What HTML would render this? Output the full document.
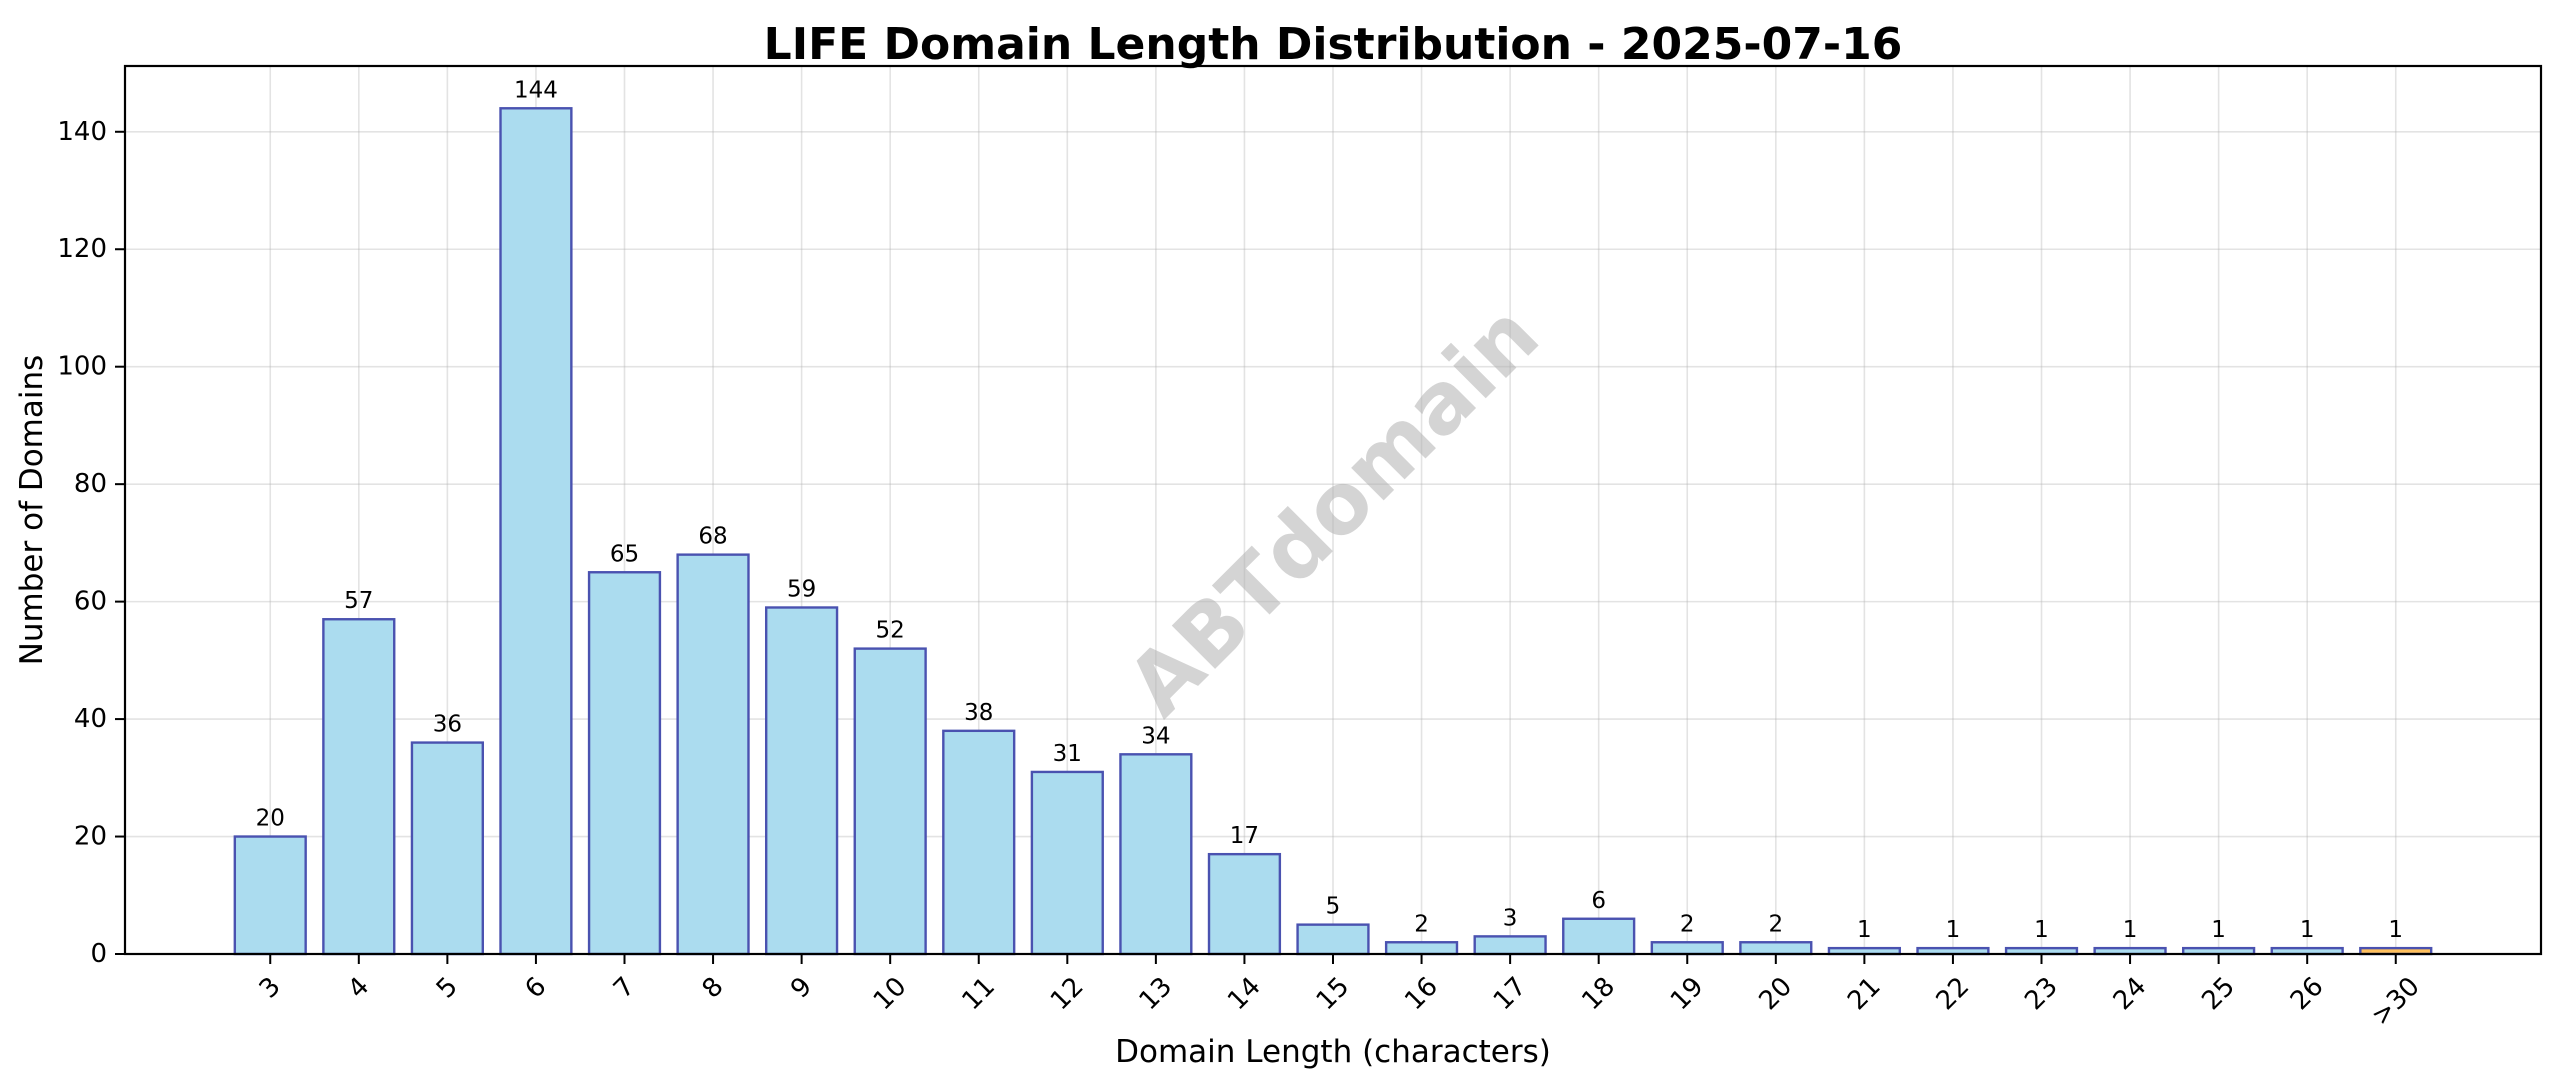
<!DOCTYPE html>
<html><head><meta charset="utf-8"><style>
html,body{margin:0;padding:0;background:#fff;}
svg{display:block;font-family:"DejaVu Sans","Liberation Sans",sans-serif;}
</style></head><body>
<svg id="chart" width="2560" height="1087" viewBox="0 0 2560 1087" xmlns="http://www.w3.org/2000/svg">
<rect x="0" y="0" width="2560" height="1087" fill="#fff"/>
<g id="grid"></g>
<text x="1333" y="510" transform="rotate(-45 1333 510)" text-anchor="middle" dominant-baseline="central" font-size="84" font-weight="bold" fill="#b0b0b0" fill-opacity="0.55">ABTdomain</text>
<g id="bars"></g>
<g id="labels"></g>
<rect x="125" y="66" width="2416" height="888" fill="none" stroke="#000" stroke-width="2.2"/>
<g id="yticks"></g>
<g id="xticks"></g>
<text x="1333" y="59" text-anchor="middle" font-size="44" font-weight="bold" fill="#000">LIFE Domain Length Distribution - 2025-07-16</text>
<text x="1333" y="1062" text-anchor="middle" font-size="31" fill="#000">Domain Length (characters)</text>
<text x="0" y="0" transform="translate(42 510) rotate(-90)" text-anchor="middle" font-size="31" fill="#000">Number of Domains</text>
</svg>
<script>
const categories = ["3","4","5","6","7","8","9","10","11","12","13","14","15","16","17","18","19","20","21","22","23","24","25","26",">30"];
const counts = [20,57,36,144,65,68,59,52,38,31,34,17,5,2,3,6,2,2,1,1,1,1,1,1,1];
const yTicks = [0,20,40,60,80,100,120,140];

const NS = "http://www.w3.org/2000/svg";
const L = 125, R = 2541, T = 66, B = 954;
const n = categories.length;
const xmin = -0.4 - 0.05*(n - 1 + 0.8), xmax = n - 1 + 0.4 + 0.05*(n - 1 + 0.8);
const ymax = Math.max(...counts) * 1.05;
const xs = i => L + (i - xmin) / (xmax - xmin) * (R - L);
const ys = v => B - v / ymax * (B - T);
const bw = 0.8 * (R - L) / (xmax - xmin);
function mk(tag, attrs, parent) {
  const e = document.createElementNS(NS, tag);
  for (const k in attrs) e.setAttribute(k, attrs[k]);
  parent.appendChild(e);
  return e;
}
const grid = document.getElementById('grid');
const bars = document.getElementById('bars');
const labels = document.getElementById('labels');
const yt = document.getElementById('yticks');
const xt = document.getElementById('xticks');

yTicks.forEach(v => {
  const y = ys(v);
  const g = mk('line', {x1: L, x2: R, y1: y, y2: y, stroke: '#b0b0b0', 'stroke-opacity': 0.35, 'stroke-width': 1.6}, grid);
  
  
  const tk = mk('line', {x1: L - 10, x2: L, y1: y, y2: y, stroke: '#000', 'stroke-width': 2}, yt);
  
  
  const t = mk('text', {x: L - 18, y: y, 'text-anchor': 'end', 'dominant-baseline': 'central', 'font-size': 26, fill: '#000'}, yt);
  t.textContent = v;
  
  
});

categories.forEach((c, i) => {
  const x = xs(i);
  const g = mk('line', {x1: x, x2: x, y1: T, y2: B, stroke: '#b0b0b0', 'stroke-opacity': 0.35, 'stroke-width': 1.6}, grid);
  
  
  const last = c === '>30';
  const y = ys(counts[i]);
  const r = mk('rect', {x: x - bw/2, y: y, width: bw, height: B - y,
    fill: last ? '#ffc05c' : '#abdcef', stroke: '#4a52b0', 'stroke-width': 2.4}, bars);
  
  
  const lb = mk('text', {x: x, y: y - 11, 'text-anchor': 'middle', 'font-size': 23, fill: '#000'}, labels);
  lb.textContent = counts[i];
  
  
  const tk = mk('line', {x1: x, x2: x, y1: B, y2: B + 10, stroke: '#000', 'stroke-width': 2}, xt);
  
  
  const t = mk('text', {x: 0, y: 0, 'text-anchor': 'middle', 'dominant-baseline': 'central', 'font-size': 26, fill: '#000'}, xt);
  t.textContent = c;
  
  
  const w = t.getComputedTextLength();
  const h = (w + 26) * 0.7071;
  const cy = 973 + h / 2;
  t.setAttribute('transform', 'translate(' + x + ' ' + cy + ') rotate(-45)');
});
</script>
</body></html>
